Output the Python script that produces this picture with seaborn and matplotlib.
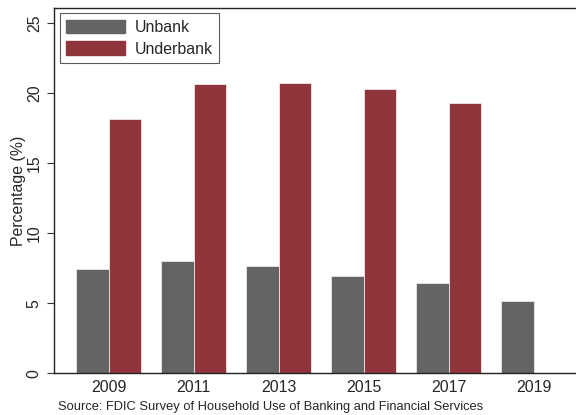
import matplotlib
matplotlib.use("Agg")
import matplotlib.pyplot as plt
import seaborn as sns
import pandas as pd
import numpy as np
from matplotlib.patches import Patch

years = ["2009", "2011", "2013", "2015", "2017", "2019"]
unbank = [7.43, 8.02, 7.66, 6.97, 6.43, 5.17]
underbank = [18.16, 20.64, 20.74, 20.29, 19.33, np.nan]
series_names = ["Unbank", "Underbank"]
colors = ["#646464", "#90353B"]

df = pd.DataFrame({
    "year": years * 2,
    "value": unbank + underbank,
    "series": [series_names[0]] * len(years) + [series_names[1]] * len(years),
})

sns.set_theme(style="white")
plt.rcParams["font.family"] = ["Liberation Sans", "DejaVu Sans"]

fig = plt.figure(figsize=(5.76, 4.15), dpi=100)
W, H = 576, 415
ax = fig.add_axes([54.3 / W, 1 - 373.3 / H, (576 - 54.3) / W, (373.3 - 8) / H])

sns.barplot(data=df, x="year", y="value", hue="series", order=years,
            hue_order=series_names, palette=colors, width=0.76,
            saturation=1, edgecolor="#f0e6e6", linewidth=0.6, ax=ax,
            legend=False, errorbar=None)

ax.set_xlim(-0.64, 5.5)
ax.set_ylim(0, 26.09)
ax.set_yticks([0, 5, 10, 15, 20, 25])
ax.set_yticklabels(["0", "5", "10", "15", "20", "25"], rotation=90, va="center")
ax.set_xlabel("")
ax.set_ylabel("Percentage (%)", fontsize=11.4, labelpad=0.5)
ax.tick_params(axis="y", which="both", left=True, length=5, width=0.8,
               labelsize=11.4, pad=4, color="#333333")
ax.tick_params(axis="x", bottom=False, length=0, labelsize=11.4, pad=5)

for s in ["right"]:
    ax.spines[s].set_visible(False)
for s in ["left", "top", "bottom"]:
    ax.spines[s].set_visible(True)
    ax.spines[s].set_color("#222222")
    ax.spines[s].set_linewidth(1.0)

handles = [Patch(facecolor=c, edgecolor=c) for c in colors]
leg = ax.legend(handles, series_names, loc="upper left",
                bbox_to_anchor=(0.011, 0.9855), fontsize=11.4,
                handlelength=3.7, handleheight=0.95, handletextpad=0.6,
                borderpad=0.4, labelspacing=0.4, frameon=True,
                fancybox=False, borderaxespad=0)
leg.get_frame().set_edgecolor("#333333")
leg.get_frame().set_linewidth(0.8)

fig.text(57.5 / W, 1 - 407 / H,
         "Source: FDIC Survey of Household Use of Banking and Financial Services",
         fontsize=9.25, va="center", ha="left")

fig.savefig("out.png", dpi=100)
